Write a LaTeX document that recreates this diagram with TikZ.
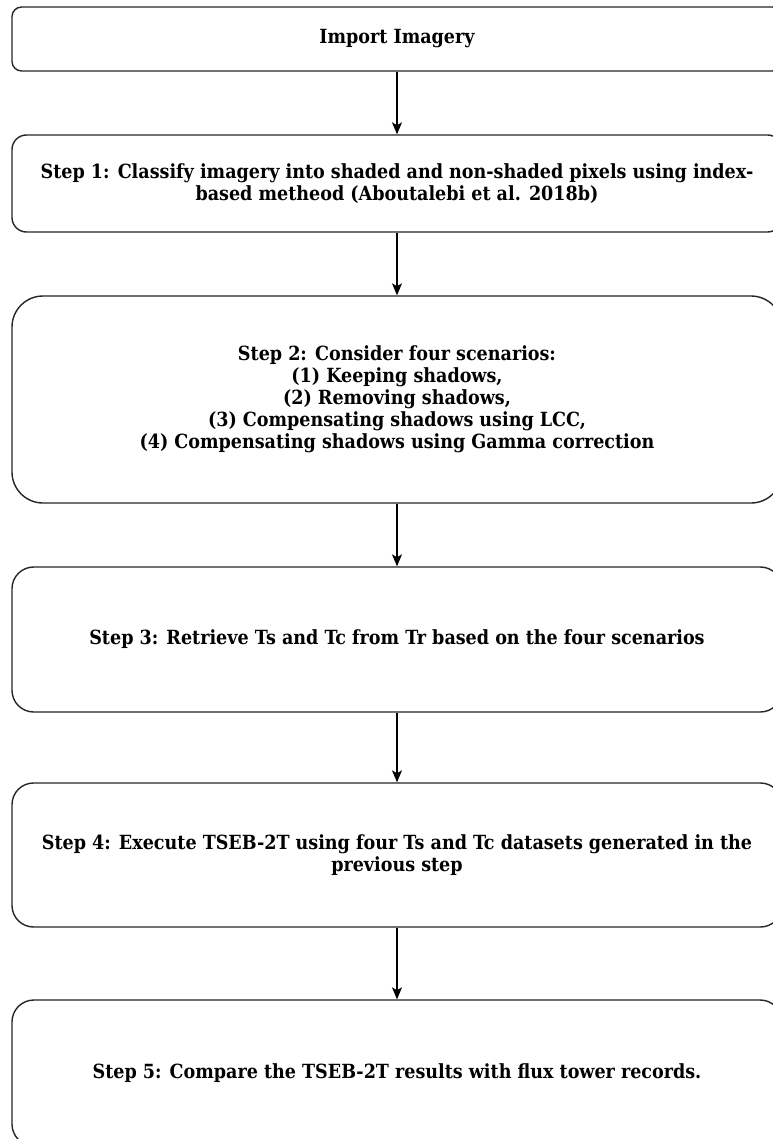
\documentclass[tikz,border=0pt]{standalone}
\usepackage{fontspec}
\newfontfamily\boxfont{DejaVu Serif Condensed Bold}
\usetikzlibrary{arrows.meta}
\tikzset{
  stepbox/.style={draw=black!85, line width=1.4pt, fill=white, rectangle,
    minimum width=770pt, inner sep=0pt, align=center,
    font=\boxfont\fontsize{19.5}{22}\selectfont},
  arr/.style={draw=black, line width=1.1pt, -{Stealth[length=12pt,width=10pt,inset=3pt]}}
}
\begin{document}
\begin{tikzpicture}[x=1pt,y=1pt]
\useasboundingbox[fill=white] (0,0) rectangle (772,-1139);
\node[stepbox, minimum height=64pt, rounded corners=9.6pt] (b0) at (397,-39) {Import Imagery};
\node[stepbox, minimum height=97pt, rounded corners=14.5pt] (b1) at (397,-183.5)
  {Step 1: Classify imagery into shaded and non-shaded pixels using index-\\based metheod (Aboutalebi et al. 2018b)};
\node[stepbox, minimum height=207pt, rounded corners=31pt] (b2) at (397,-399.5)
  {Step 2: Consider four scenarios:\\(1) Keeping shadows,\\(2) Removing shadows,\\(3) Compensating shadows using LCC,\\(4) Compensating shadows using Gamma correction};
\node[stepbox, minimum height=145pt, rounded corners=21.7pt] (b3) at (397,-639.5)
  {Step 3: Retrieve Ts and Tc from Tr based on the four scenarios};
\node[stepbox, minimum height=144pt, rounded corners=21.6pt] (b4) at (397,-855)
  {Step 4: Execute TSEB-2T using four Ts and Tc datasets generated in the\\previous step};
\node[stepbox, minimum height=146pt, rounded corners=21.9pt] (b5) at (397,-1073)
  {Step 5: Compare the TSEB-2T results with flux tower records.};
\draw[arr] (b0.south) -- (b1.north);
\draw[arr] (b1.south) -- (b2.north);
\draw[arr] (b2.south) -- (b3.north);
\draw[arr] (b3.south) -- (b4.north);
\draw[arr] (b4.south) -- (b5.north);
\end{tikzpicture}
\end{document}
